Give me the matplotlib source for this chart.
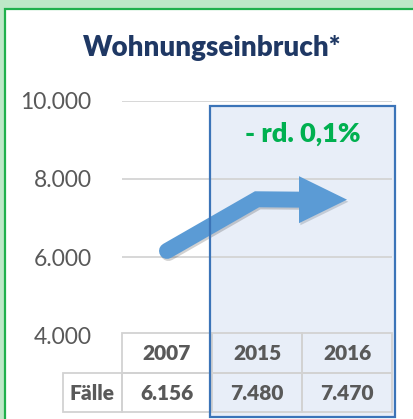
import matplotlib
matplotlib.use('Agg')
import matplotlib.pyplot as plt
import matplotlib.patheffects as pe
from matplotlib.patches import Rectangle, Polygon
from matplotlib.transforms import blended_transform_factory

# data
jahre = ['2007', '2015', '2016']
faelle = [6156, 7480, 7470]
yticks = [4000, 6000, 8000, 10000]
titel = 'Wohnungseinbruch*'
veraenderung = '- rd. 0,1%'
zeilen_label = 'Fälle'

plt.rcParams['font.family'] = ['Lato', 'DejaVu Sans']
fett = 'heavy'

W, H = 414, 419
def fx(px): return px / W
def fy(py): return 1 - py / H

fig = plt.figure(figsize=(W / 100, H / 100), dpi=100)
fig.patch.set_facecolor('#bde8c7')
# weisses panel mit gruenem rand
fig.add_artist(Rectangle((fx(5), fy(430)), 1.0, (430 - 9) / H, transform=fig.transFigure,
                         facecolor='white', edgecolor='#1fb04c', lw=1.6, zorder=0))

fig.text(fx(212), fy(48), titel, ha='center', va='center', fontsize=20,
         fontweight=fett, color='#1f3864')

ax = fig.add_axes([fx(122), fy(335), 270 / W, 234 / H])
ax.set_xlim(-0.5, 2.5)
ax.set_ylim(4000, 10000)
ax.patch.set_alpha(0)
for s in ax.spines.values():
    s.set_visible(False)
ax.set_xticks([])
ax.set_yticks(yticks)
ax.set_yticklabels(['{:,}'.format(v).replace(',', '.') for v in yticks],
                   fontsize=16.5, color='#595959')
ax.tick_params(left=False, pad=18.5)
for v in yticks[1:]:
    ax.axhline(v, color='#d4d4d4', lw=1.3, zorder=1)

bt = blended_transform_factory(ax.transData, ax.transAxes)
def ay(py): return (335 - py) / 234

# blauer kasten 2015/2016
ax.add_patch(Rectangle((0.478, ay(417)), 2.533 - 0.478, ay(106) - ay(417), transform=bt,
                       facecolor='#e8eef8', edgecolor='none', zorder=0.5, clip_on=False))
ax.add_patch(Rectangle((0.478, ay(417)), 2.533 - 0.478, ay(106) - ay(417), transform=bt,
                       facecolor='none', edgecolor='#3b74b8', lw=1.6, zorder=6, clip_on=False))

ax.text(1.511, ay(134), veraenderung, transform=bt, ha='center', va='center',
        fontsize=19.5, fontweight=fett, color='#00b050')

# tabelle
grau = '#d2d2d2'
for i, j in enumerate(jahre):
    ax.add_patch(Rectangle((i - 0.5, ay(373)), 1, ay(333) - ay(373), transform=bt,
                           facecolor='none', edgecolor=grau, lw=1.3, clip_on=False, zorder=2))
    ax.add_patch(Rectangle((i - 0.5, ay(412)), 1, ay(373) - ay(412), transform=bt,
                           facecolor='none', edgecolor=grau, lw=1.3, clip_on=False, zorder=2))
    ax.text(i, ay(354), j, transform=bt, ha='center', va='center', fontsize=15,
            fontweight=fett, color='#595959')
    ax.text(i, ay(393), '{:,}'.format(faelle[i]).replace(',', '.'), transform=bt,
            ha='center', va='center', fontsize=15, fontweight=fett, color='#595959')
x0 = (63 - 122) / 90 - 0.5
ax.add_patch(Rectangle((x0, ay(412)), -0.5 - x0, ay(373) - ay(412), transform=bt,
                       facecolor='none', edgecolor=grau, lw=1.3, clip_on=False, zorder=2))
ax.text((x0 - 0.5) / 2, ay(393), zeilen_label, transform=bt, ha='center', va='center',
        fontsize=15, fontweight=fett, color='#595959')

# pfeil durch die werte
px_x = 3 / 270
px_y = 6000 / 234
kopf_l = 48 * px_x
kopf_h = 23.5 * px_y
xs = [0, 1, 2 - kopf_l + 2 * px_x]
ys = [faelle[0], faelle[1], faelle[2]]
blau = '#5b9bd5'
ax.plot(xs, ys, color=blau, lw=11.5, solid_capstyle='round', solid_joinstyle='miter',
        zorder=4, path_effects=[pe.SimpleLineShadow(offset=(1, -1.5), alpha=0.18), pe.Normal()])
ax.add_patch(Polygon([(2 - kopf_l, faelle[2] + kopf_h), (2, faelle[2]), (2 - kopf_l, faelle[2] - kopf_h)],
                     closed=True, facecolor=blau, edgecolor='none', zorder=4,
                     path_effects=[pe.SimplePatchShadow(offset=(1, -1.5), alpha=0.18), pe.Normal()]))

fig.savefig('out.png', dpi=100, facecolor=fig.get_facecolor())
